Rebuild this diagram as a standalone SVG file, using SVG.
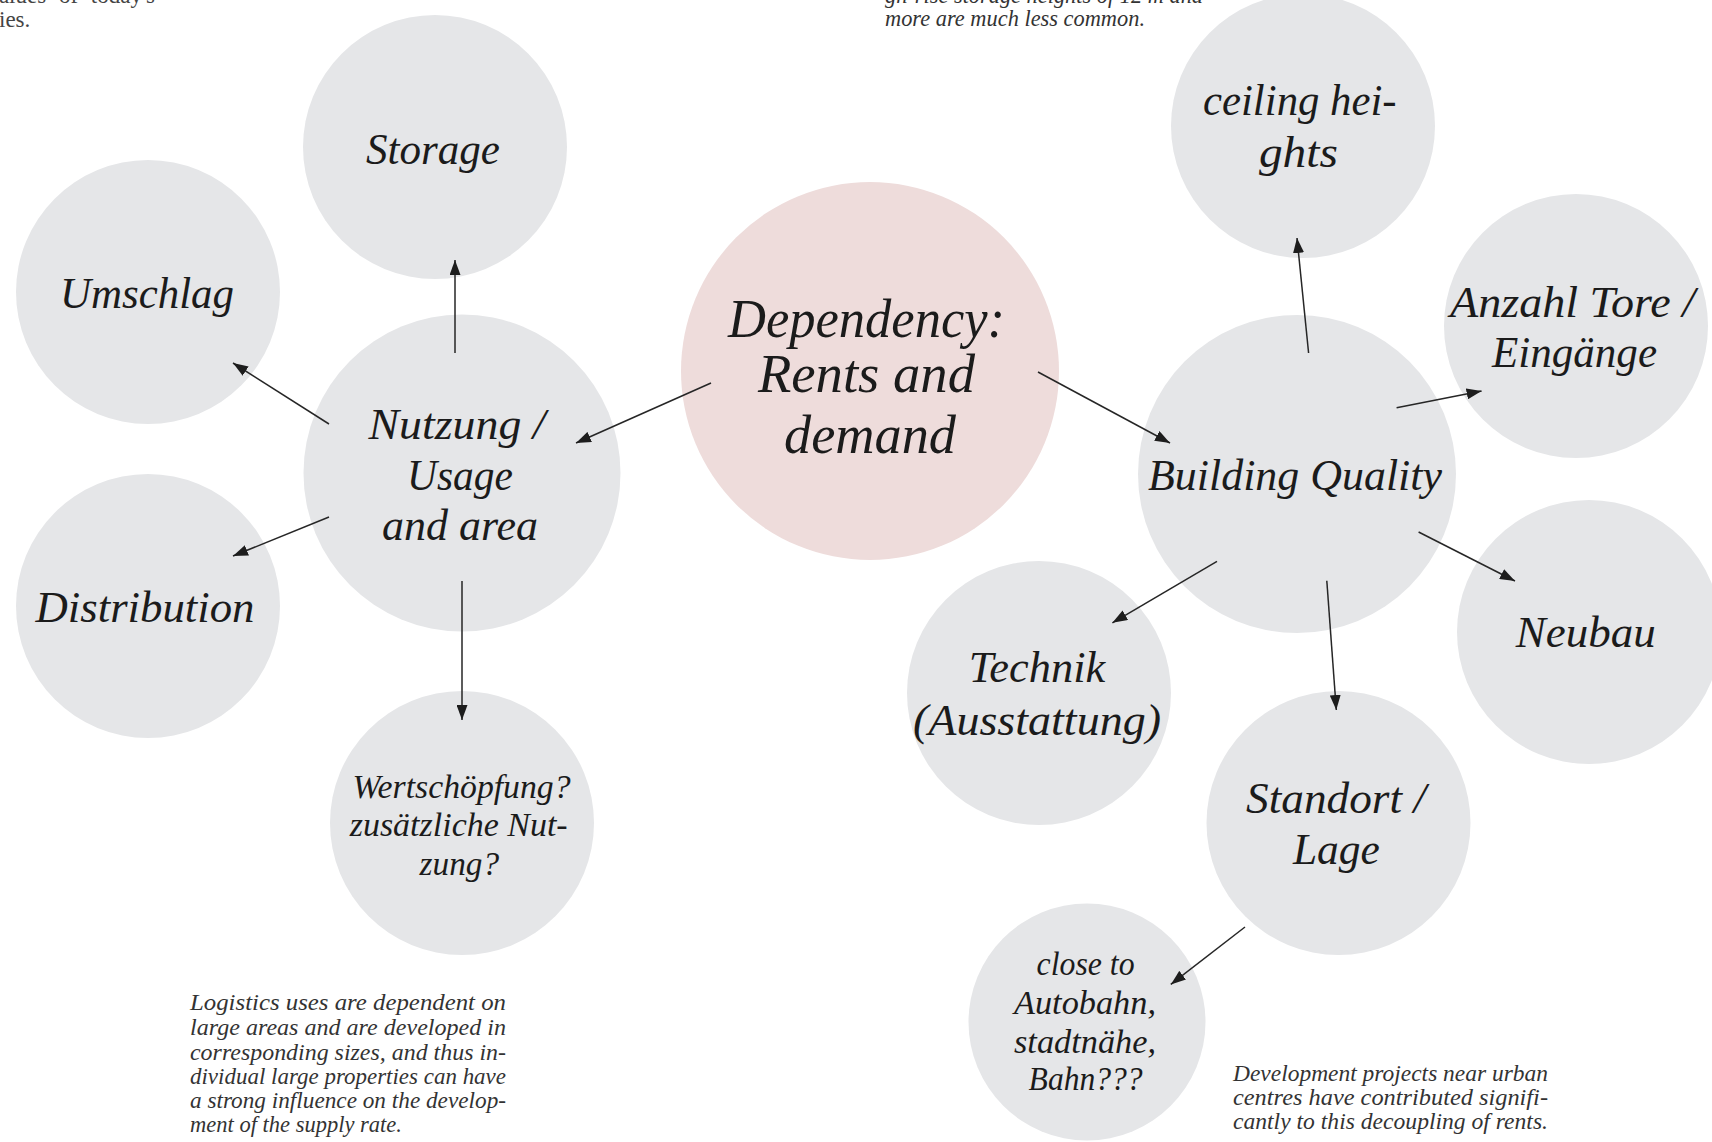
<svg xmlns="http://www.w3.org/2000/svg" width="1712" height="1142" viewBox="0 0 1712 1142">
<style>
.c{fill:#e5e6e8}
.hubc{fill:#eedcdb}
.t{font-family:"Liberation Serif",serif;font-style:italic;fill:#1b1b1b;text-anchor:middle}
.big{font-size:44px}
.hub{font-size:54px}
.sm{font-size:34px}
.p{font-family:"Liberation Serif",serif;font-style:italic;font-size:23.5px;fill:#333333}
.pr{font-family:"Liberation Serif",serif;font-size:23px;fill:#444444}
.e{stroke:#262626;stroke-width:1.5;fill:none;marker-end:url(#ah)}
</style>
<defs>
<marker id="ah" markerUnits="userSpaceOnUse" markerWidth="15" markerHeight="11" refX="15" refY="5.5" orient="auto">
<path d="M0,0 L15,5.5 L0,11 z" fill="#1d1d1d"/>
</marker>
</defs>
<rect width="1712" height="1142" fill="#ffffff"/>

<g id="paragraphs">
<text class="pr" x="155" y="3" text-anchor="end" word-spacing="7">values of today's</text>
<text class="pr" x="-1" y="27">ies.</text>
<text class="p" x="885" y="3" textLength="318" lengthAdjust="spacingAndGlyphs">gh-rise storage heights of 12 m and</text>
<text class="p" x="885" y="26" textLength="260" lengthAdjust="spacingAndGlyphs">more are much less common.</text>
<text class="p" x="190" y="1010" textLength="316" lengthAdjust="spacingAndGlyphs">Logistics uses are dependent on</text>
<text class="p" x="190" y="1035" textLength="316" lengthAdjust="spacingAndGlyphs">large areas and are developed in</text>
<text class="p" x="190" y="1059.5" textLength="316" lengthAdjust="spacingAndGlyphs">corresponding sizes, and thus in-</text>
<text class="p" x="190" y="1084" textLength="316" lengthAdjust="spacingAndGlyphs">dividual large properties can have</text>
<text class="p" x="190" y="1108" textLength="316" lengthAdjust="spacingAndGlyphs">a strong influence on the develop-</text>
<text class="p" x="190" y="1132" textLength="212" lengthAdjust="spacingAndGlyphs">ment of the supply rate.</text>
<text class="p" x="1233" y="1081" textLength="315" lengthAdjust="spacingAndGlyphs">Development projects near urban</text>
<text class="p" x="1233" y="1105" textLength="315" lengthAdjust="spacingAndGlyphs">centres have contributed signifi-</text>
<text class="p" x="1233" y="1129" textLength="315" lengthAdjust="spacingAndGlyphs">cantly to this decoupling of rents.</text>
</g>

<g id="node-storage"><circle class="c" cx="435" cy="147" r="132"/></g>
<g id="node-umschlag"><circle class="c" cx="148" cy="292" r="132"/></g>
<g id="node-nutzung"><circle class="c" cx="462" cy="473" r="158.5"/></g>
<g id="node-distribution"><circle class="c" cx="148" cy="606" r="132"/></g>
<g id="node-wertschoepfung"><circle class="c" cx="462" cy="823" r="132"/></g>
<g id="node-dependency"><circle class="hubc" cx="870" cy="371" r="189"/></g>
<g id="node-ceiling"><circle class="c" cx="1303" cy="126" r="132"/></g>
<g id="node-anzahl"><circle class="c" cx="1576" cy="326" r="132"/></g>
<g id="node-building"><circle class="c" cx="1297" cy="474" r="159"/></g>
<g id="node-technik"><circle class="c" cx="1039" cy="693" r="132"/></g>
<g id="node-neubau"><circle class="c" cx="1589" cy="632" r="132"/></g>
<g id="node-standort"><circle class="c" cx="1338.5" cy="823" r="132"/></g>
<g id="node-close"><circle class="c" cx="1087" cy="1022" r="118.5"/></g>

<g id="connectors">
<line class="e" x1="711" y1="383" x2="576" y2="443"/>
<line class="e" x1="1038" y1="372" x2="1170" y2="443"/>
<line class="e" x1="455" y1="353" x2="455" y2="260"/>
<line class="e" x1="329" y1="424" x2="233" y2="363"/>
<line class="e" x1="329" y1="517" x2="233" y2="556"/>
<line class="e" x1="462" y1="581" x2="462" y2="720"/>
<line class="e" x1="1308.6" y1="353" x2="1297" y2="238"/>
<line class="e" x1="1396.6" y1="407.7" x2="1481.6" y2="391"/>
<line class="e" x1="1217" y1="561.4" x2="1112.4" y2="622.8"/>
<line class="e" x1="1326.8" y1="580.7" x2="1336.3" y2="710"/>
<line class="e" x1="1418.6" y1="532" x2="1515" y2="581"/>
<line class="e" x1="1245" y1="927" x2="1170.8" y2="984.4"/>
</g>

<g id="labels">
<text class="t big" x="433" y="164" textLength="134" lengthAdjust="spacingAndGlyphs">Storage</text>
<text class="t big" x="147" y="308" textLength="174" lengthAdjust="spacingAndGlyphs">Umschlag</text>
<text class="t big" x="457" y="439" textLength="177" lengthAdjust="spacingAndGlyphs">Nutzung /</text>
<text class="t big" x="460" y="490" textLength="106" lengthAdjust="spacingAndGlyphs">Usage</text>
<text class="t big" x="460" y="539.5" textLength="156" lengthAdjust="spacingAndGlyphs">and area</text>
<text class="t big" x="145" y="622" textLength="219" lengthAdjust="spacingAndGlyphs">Distribution</text>
<text class="t sm" x="461.6" y="798" textLength="218" lengthAdjust="spacingAndGlyphs">Wertschöpfung?</text>
<text class="t sm" x="458.7" y="836" textLength="218" lengthAdjust="spacingAndGlyphs">zusätzliche Nut-</text>
<text class="t sm" x="459.3" y="874.5" textLength="79.5" lengthAdjust="spacingAndGlyphs">zung?</text>
<text class="t hub" x="866.5" y="337" textLength="277" lengthAdjust="spacingAndGlyphs">Dependency:</text>
<text class="t hub" x="866.5" y="392" textLength="217" lengthAdjust="spacingAndGlyphs">Rents and</text>
<text class="t hub" x="870" y="453" textLength="172" lengthAdjust="spacingAndGlyphs">demand</text>
<text class="t big" x="1299.8" y="115" textLength="193.6" lengthAdjust="spacingAndGlyphs">ceiling hei-</text>
<text class="t big" x="1298.4" y="166.7" textLength="79" lengthAdjust="spacingAndGlyphs">ghts</text>
<text class="t big" x="1572.5" y="316.7" textLength="245" lengthAdjust="spacingAndGlyphs">Anzahl Tore /</text>
<text class="t big" x="1574.5" y="366.7" textLength="165" lengthAdjust="spacingAndGlyphs">Eingänge</text>
<text class="t big" x="1295" y="490" textLength="294" lengthAdjust="spacingAndGlyphs">Building Quality</text>
<text class="t big" x="1037" y="682" textLength="136.5" lengthAdjust="spacingAndGlyphs">Technik</text>
<text class="t big" x="1037" y="735" textLength="248" lengthAdjust="spacingAndGlyphs">(Ausstattung)</text>
<text class="t big" x="1585.8" y="647" textLength="140" lengthAdjust="spacingAndGlyphs">Neubau</text>
<text class="t big" x="1336" y="813" textLength="180" lengthAdjust="spacingAndGlyphs">Standort /</text>
<text class="t big" x="1336.4" y="864" textLength="87" lengthAdjust="spacingAndGlyphs">Lage</text>
<text class="t sm" x="1085.6" y="975" textLength="98" lengthAdjust="spacingAndGlyphs">close to</text>
<text class="t sm" x="1085" y="1014" textLength="142" lengthAdjust="spacingAndGlyphs">Autobahn,</text>
<text class="t sm" x="1085" y="1053" textLength="142" lengthAdjust="spacingAndGlyphs">stadtnähe,</text>
<text class="t sm" x="1085.6" y="1090" textLength="114" lengthAdjust="spacingAndGlyphs">Bahn???</text>
</g>
</svg>
